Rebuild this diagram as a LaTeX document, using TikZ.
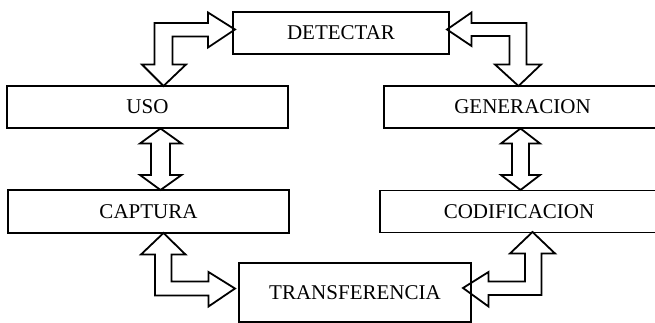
\documentclass[tikz,border=0pt]{standalone}
\usepackage{fontspec}
\setmainfont{Liberation Serif}
\begin{document}
\begin{tikzpicture}[x=1pt,y=-1pt,
  box/.style={draw,line width=1.8pt,rectangle,inner sep=0pt,outer sep=0pt,
    font=\fontsize{21}{24}\selectfont},
  blockarrow/.style={draw,line width=1.8pt,line join=miter}]
\useasboundingbox (0,0) rectangle (655,323);
\clip (0,0) rectangle (655,323);
\node[box,minimum width=216pt,minimum height=42pt] (det) at (341,33) {DETECTAR};
\node[box,minimum width=281pt,minimum height=42pt] (uso) at (147.5,107) {USO};
\node[box,minimum width=277pt,minimum height=42pt] (gen) at (522.5,107) {GENERACION};
\node[box,minimum width=281pt,minimum height=43pt] (cap) at (148.5,211.5) {CAPTURA};
\node[box,minimum width=278pt,minimum height=42pt] (cod) at (519,211.5) {CODIFICACION};
\node[box,minimum width=232pt,minimum height=59pt] (tra) at (355,292.5) {TRANSFERENCIA};
% DETECTAR - USO
\draw[blockarrow] (235,29.5) -- (208,12.5) -- (208,23) -- (154.5,23) -- (154.5,64.5) -- (142,64.5) -- (163.5,86) -- (186,64.5) -- (172.5,64.5) -- (172.5,36.5) -- (208,36.5) -- (208,47.5) -- cycle;
% DETECTAR - GENERACION
\draw[blockarrow] (447,29.5) -- (471.5,12.5) -- (471.5,23) -- (526.5,23) -- (526.5,64.5) -- (541,64.5) -- (518.5,86) -- (495,64.5) -- (509.5,64.5) -- (509.5,36) -- (471.5,36) -- (471.5,46) -- cycle;
% USO - CAPTURA
\draw[blockarrow] (160.5,128.5) -- (181.5,143.5) -- (170,143.5) -- (170,175) -- (181.5,175) -- (160.5,190) -- (140,175) -- (151,175) -- (151,143.5) -- (140,143.5) -- cycle;
% GENERACION - CODIFICACION
\draw[blockarrow] (520.5,128.5) -- (540,143.5) -- (529,143.5) -- (529,175) -- (540,175) -- (520.5,190) -- (501,175) -- (512,175) -- (512,143.5) -- (501,143.5) -- cycle;
% CAPTURA - TRANSFERENCIA
\draw[blockarrow] (163.5,233) -- (185.5,254.5) -- (171.5,254.5) -- (171.5,281.5) -- (208.5,281.5) -- (208.5,272) -- (235,288.5) -- (208.5,306.5) -- (208.5,295.5) -- (155,295.5) -- (155,254.5) -- (141,254.5) -- cycle;
% CODIFICACION - TRANSFERENCIA
\draw[blockarrow] (532.5,232) -- (555,253.5) -- (541.5,253.5) -- (541.5,295) -- (488.5,295) -- (488.5,306.5) -- (463,288) -- (488.5,272) -- (488.5,281.5) -- (525,281.5) -- (525,253.5) -- (510,253.5) -- cycle;
\end{tikzpicture}
\end{document}
